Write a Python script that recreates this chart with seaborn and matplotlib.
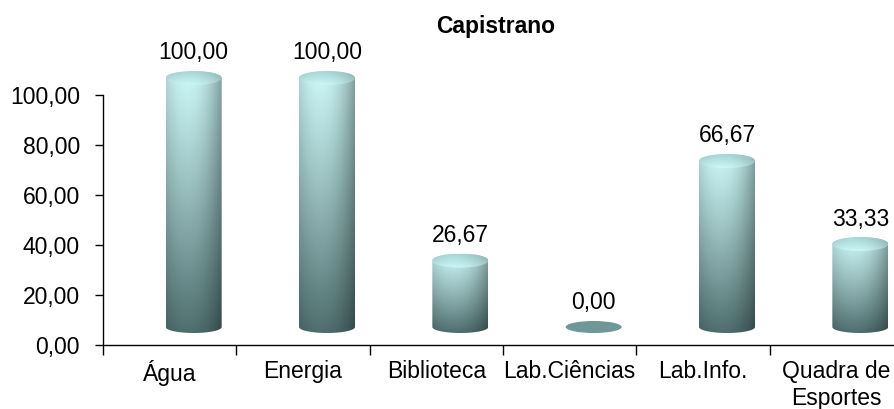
import numpy as np
import seaborn as sns
import matplotlib.pyplot as plt
from matplotlib.path import Path
from matplotlib.patches import Ellipse, PathPatch
from matplotlib.ticker import FuncFormatter

# data
categories = ['Água', 'Energia', 'Biblioteca', 'Lab.Ciências', 'Lab.Info.', 'Quadra de\nEsportes']
values = [100.00, 100.00, 26.67, 0.00, 66.67, 33.33]
yticks = [0, 20, 40, 60, 80, 100]
title = 'Capistrano'


def br(v):
    """format numbers the brazilian way: 26,67"""
    return f'{v:.2f}'.replace('.', ',')


def shading(n_rows, n_cols, top, bottom, side=0.35):
    """gradient image for a cylinder: light on top, dark below, darker edges"""
    t = np.linspace(0, 1, n_rows)[:, None, None]
    s = np.linspace(0, 1, n_cols)[None, :, None]
    base = np.array(top) + (np.array(bottom) - np.array(top)) * t ** 1.1
    shade = 1 - side * ((s - 0.38) / 0.62) ** 2
    return np.clip(base * shade, 0, 1)


sns.set_style('ticks')
plt.rcParams['font.family'] = ['Liberation Sans', 'DejaVu Sans']
plt.rcParams['font.size'] = 16.5
for k in ['text.color', 'axes.labelcolor', 'xtick.color', 'ytick.color']:
    plt.rcParams[k] = 'black'

W, H = 895, 409
fig = plt.figure(figsize=(W / 100, H / 100), dpi=100)

# flat frame with the axes
ax = fig.add_axes([103 / W, (H - 345) / H, 800 / W, 250 / H])

# cylinders are drawn a bit behind the frame (3D depth): shifted right and up.
# y range padded so the ellipses are not clipped by the axes box
px_per_unit = 249 / 100
ylo, yhi = -6, 106
zero_px = 327
ax2 = fig.add_axes([127 / W, (H - zero_px + ylo * px_per_unit) / H,
                    800 / W, (yhi - ylo) * px_per_unit / H])

sns.barplot(x=categories, y=values, ax=ax2, width=0.42)

e_bot = 6 / px_per_unit   # half height of bottom ellipse (data units)
e_top = 7 / px_per_unit   # half height of the cap

body_img = shading(200, 120, [0.80, 0.97, 0.97], [0.31, 0.43, 0.43])
cap_img = shading(40, 120, [0.66, 0.84, 0.84], [0.80, 0.97, 0.97], side=0.18)

for p in list(ax2.patches):
    x0, w, h = p.get_x(), p.get_width(), p.get_height()
    xc = x0 + w / 2
    p.set_visible(False)

    if h <= 0:
        ax2.add_patch(Ellipse((xc, 0), w, 2 * e_bot, facecolor='#6f9797',
                              edgecolor='none', zorder=3))
        label_y = 0
    else:
        a1 = np.linspace(np.pi, 2 * np.pi, 60)
        a2 = np.linspace(0, np.pi, 60)
        verts = np.vstack([
            np.column_stack([xc + w / 2 * np.cos(a1), e_bot * np.sin(a1)]),
            np.column_stack([xc + w / 2 * np.cos(a2), h + e_top * np.sin(a2)]),
            [[x0, 0]],
        ])
        body = PathPatch(Path(verts, closed=True), facecolor='none',
                         edgecolor='none')
        ax2.add_patch(body)
        im = ax2.imshow(body_img, extent=[x0, x0 + w, -e_bot, h + e_top],
                        aspect='auto', origin='upper', zorder=2,
                        interpolation='bilinear')
        im.set_clip_path(body)

        cap = Ellipse((xc, h), w, 2 * e_top, facecolor='none', edgecolor='none')
        ax2.add_patch(cap)
        im2 = ax2.imshow(cap_img, extent=[x0, x0 + w, h - e_top, h + e_top],
                         aspect='auto', origin='upper', zorder=3,
                         interpolation='bilinear')
        im2.set_clip_path(cap)
        label_y = h

    ax2.annotate(br(h), xy=(xc, label_y), xytext=(0, 25),
                 textcoords='offset pixels', ha='center', va='center',
                 annotation_clip=False)

ax2.set_xlim(-0.5, 5.5)
ax2.set_ylim(ylo, yhi)
ax2.axis('off')

# frame
ax.set_xlim(-0.5, 5.5)
ax.set_ylim(0, 100)
ax.set_yticks(yticks)
ax.yaxis.set_major_formatter(FuncFormatter(lambda v, _: br(v)))
ax.set_xticks(range(len(categories)))
ax.set_xticklabels(categories)
ax.set_xticks(np.arange(-0.5, len(categories)), minor=True)
ax.tick_params(axis='x', which='major', length=0, pad=11)
ax.tick_params(axis='x', which='minor', length=7, width=1, color='black')
ax.tick_params(axis='y', length=6, width=1, color='black', pad=10.5)
sns.despine(ax=ax)
for s in ['left', 'bottom']:
    ax.spines[s].set_color('black')
    ax.spines[s].set_linewidth(1)
ax.patch.set_visible(False)

fig.text(496 / W, 1 - 27 / H, title, weight='bold', ha='center', va='center')

fig.savefig('out.png', dpi=100)
